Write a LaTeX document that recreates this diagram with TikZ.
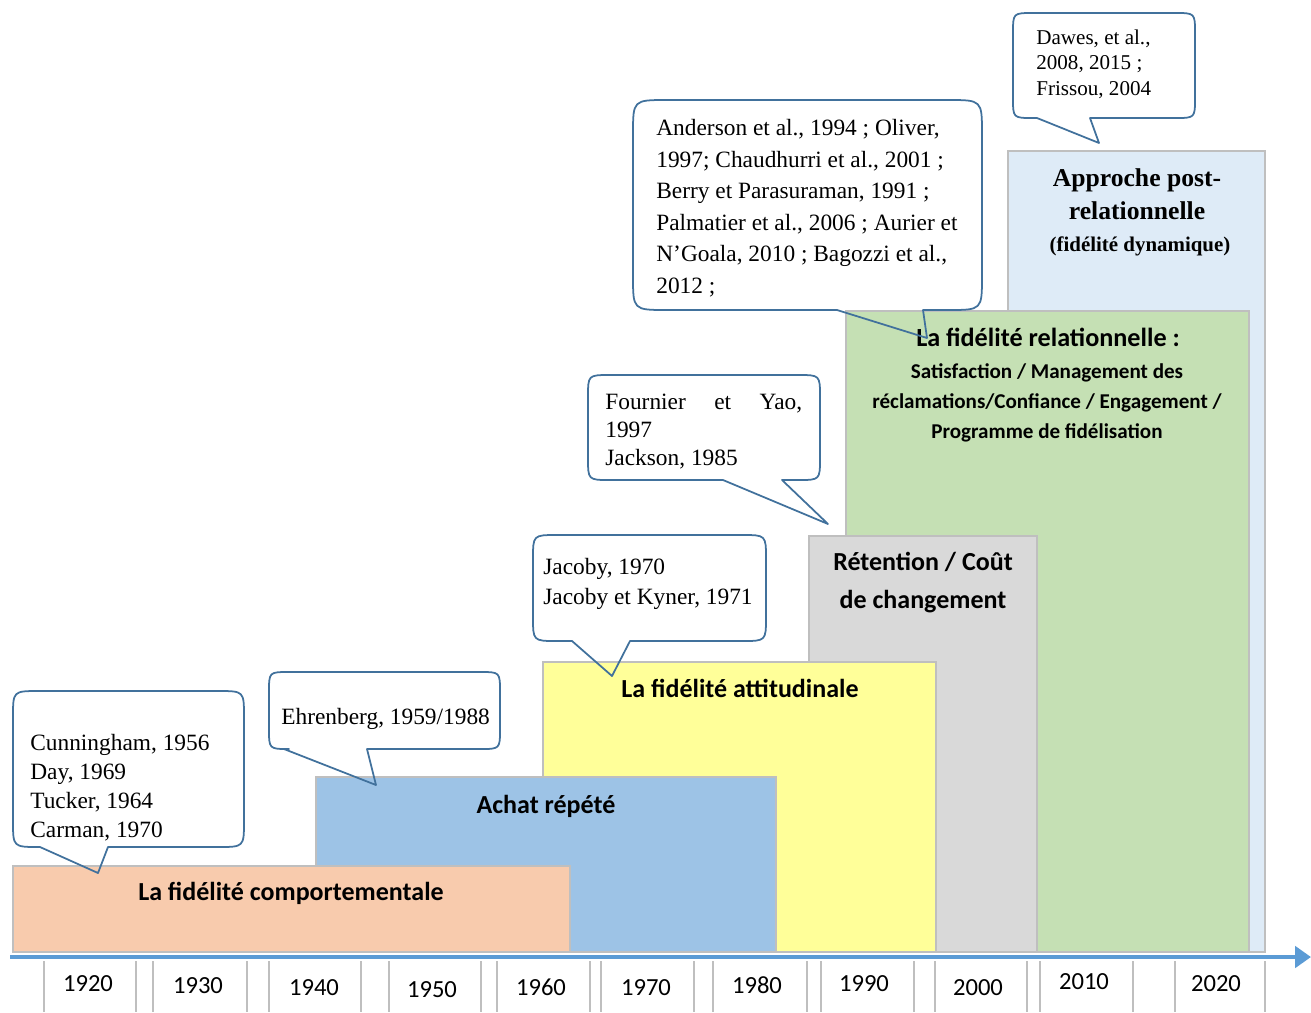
\documentclass[tikz,border=0pt]{standalone}
\usepackage{fontspec}
\setmainfont{Liberation Serif}
\newfontfamily\calibri{Carlito}
\usetikzlibrary{arrows.meta}

\definecolor{peach}{HTML}{F8CBAD}
\definecolor{achatblue}{HTML}{9DC3E6}
\definecolor{attyellow}{HTML}{FFFF99}
\definecolor{retgrey}{HTML}{D9D9D9}
\definecolor{relgreen}{HTML}{C5E0B4}
\definecolor{postblue}{HTML}{DEEBF7}
\definecolor{edgegrey}{HTML}{BFBFBF}
\definecolor{bubbleblue}{HTML}{41719C}
\definecolor{axisblue}{HTML}{5B9BD5}

% left, top, right, bottom, tail left, tail right, tip x, tip y, radius
\newcommand{\bubble}[9]{%
  \draw[bubble] (#5,#4) -- (#7,#8) -- (#6,#4) -- ({#3-#9},#4) .. controls (#3,#4) .. (#3,{#4-#9})
    -- (#3,{#2+#9}) .. controls (#3,#2) .. ({#3-#9},#2) -- ({#1+#9},#2) .. controls (#1,#2) .. (#1,{#2+#9})
    -- (#1,{#4-#9}) .. controls (#1,#4) .. ({#1+#9},#4) -- cycle;}

\begin{document}
\begin{tikzpicture}[x=0.02cm, y=-0.02cm,
  period/.style={draw=edgegrey, line width=0.6pt},
  bubble/.style={draw=bubbleblue, line width=1pt, line join=round},
  cite/.style={anchor=base west, inner sep=0pt, align=left, font=\fontsize{13.3}{17}\selectfont},
  era/.style={anchor=base, inner sep=0pt, align=center, font=\calibri\bfseries\fontsize{14.8}{21.5}\selectfont},
  year/.style={anchor=base, inner sep=0pt, font=\calibri\fontsize{14}{16}\selectfont}]
  \useasboundingbox (0,0) rectangle (1311,1012);

  \draw[period, fill=postblue] (1008,151) rectangle (1265,952);
  \draw[period, fill=relgreen] (846,311) rectangle (1249,952);
  \draw[period, fill=retgrey] (809,536) rectangle (1037,952);
  \draw[period, fill=attyellow] (543,662) rectangle (936,952);
  \draw[period, fill=achatblue] (316,777) rectangle (776,952);
  \draw[period, fill=peach] (13,866) rectangle (570,952);

  \node[era] (comport) at (291,900) {La fidélité comportementale};
  \node[era] (achat) at (546,813) {Achat répété};
  \node[era] (attitude) at (740,697) {La fidélité attitudinale};
  \node[era] (retention) at (923,608) {Rétention / Coût\\de changement};
  \node[era, font=\calibri\bfseries\fontsize{14.9}{17}\selectfont] (relation) at (1048,346) {La fidélité relationnelle :};
  \node[era, font=\calibri\bfseries\fontsize{12}{17}\selectfont] (relsub) at (1047,438)
    {Satisfaction / Management des\\réclamations/Confiance / Engagement /\\Programme de fidélisation};
  \node[era, font=\bfseries\fontsize{14.6}{18.7}\selectfont] (post) at (1137,219) {Approche post-\\relationnelle};
  \node[era, font=\bfseries\fontsize{11.9}{14}\selectfont] (dynamic) at (1140,251) {(fidélité dynamique)};

  \coordinate (t0) at (10,957);
  \coordinate (t1) at (1311,957);
  \draw[axisblue, line width=2.8pt, -{Triangle[length=9pt,width=12pt]}] (t0) -- (t1);

  \foreach \xx in {44,136,153,247,269,361,389,481,497,590,601,694,713,807,821,914,935,1027,1040,1133,1175,1265}
    \draw[edgegrey, line width=0.6pt] (\xx,961) -- (\xx,1012);
  \foreach \xx/\yy/\yr in {88/991/1920, 198/993/1930, 314/995/1940, 432/997/1950, 541/995/1960, 646/995/1970,
      757/993/1980, 864/991/1990, 978/995/2000, 1084/989/2010, 1216/991/2020}
    \node[year] (y\yr) at (\xx,\yy) {\yr};

  \bubble{13}{691}{244}{847}{40}{108}{98}{873}{26}
  \bubble{269}{672}{500}{749}{284}{367}{376}{785}{20}
  \bubble{533}{535}{766}{641}{572}{630}{612}{676}{24}
  \bubble{588}{375}{820}{480}{723}{782}{828}{524}{22}
  \bubble{633}{100}{982}{310}{837}{923}{927}{338}{34}
  \bubble{1013}{13}{1195}{118}{1037}{1090}{1099}{143}{20}

  \node[cite, font=\fontsize{13.3}{16.4}\selectfont] (cunningham) at (30,837)
    {Cunningham, 1956\\Day, 1969\\Tucker, 1964\\Carman, 1970};
  \node[cite] (ehrenberg) at (281,724) {Ehrenberg, 1959/1988};
  \node[cite] (jacoby) at (543,604) {Jacoby, 1970\\Jacoby et Kyner, 1971};
  \node[cite, font=\fontsize{13.3}{15.9}\selectfont] (fournier) at (605,465)
    {\makebox[112pt][s]{Fournier\hfill et\hfill Yao,}\\1997\\Jackson, 1985};
  \node[cite, font=\fontsize{13.3}{17.9}\selectfont] (anderson) at (656,293)
    {Anderson et al., 1994 ; Oliver,\\1997; Chaudhurri et al., 2001 ;\\Berry et Parasuraman, 1991 ;\\Palmatier et al., 2006 ; Aurier et\\N’Goala, 2010 ; Bagozzi et al.,\\2012 ;};
  \node[cite, font=\fontsize{12}{14.5}\selectfont] (dawes) at (1036,95)
    {Dawes, et al.,\\2008, 2015 ;\\Frissou, 2004};
\end{tikzpicture}
\end{document}
